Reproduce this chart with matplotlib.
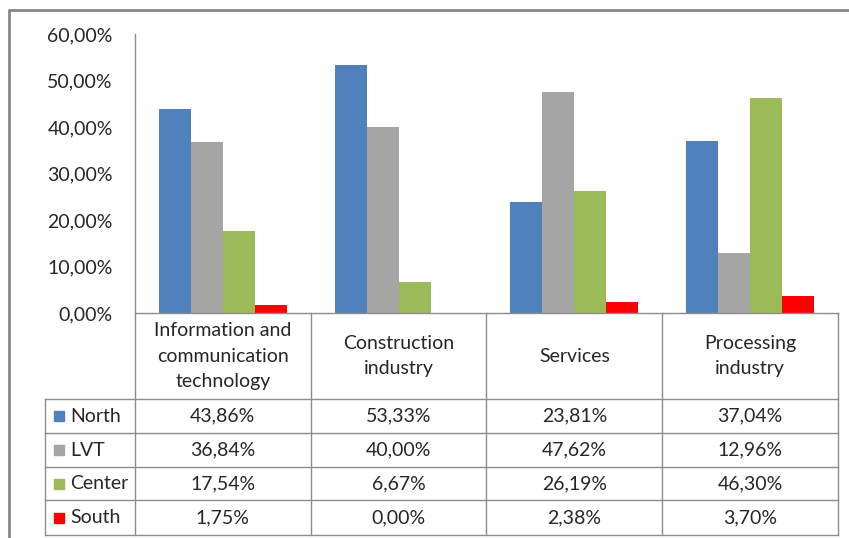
import numpy as np
import matplotlib
matplotlib.use("Agg")
import matplotlib.pyplot as plt

plt.rcParams['font.family'] = ['Lato', 'DejaVu Sans']

categories = ["Information and\ncommunication\ntechnology", "Construction\nindustry",
              "Services", "Processing\nindustry"]
series = ["North", "LVT", "Center", "South"]
north = [43.86, 53.33, 23.81, 37.04]
lvt = [36.84, 40.00, 47.62, 12.96]
center = [17.54, 6.67, 26.19, 46.30]
south = [1.75, 0.00, 2.38, 3.70]
colors = ["#4F81BD", "#A5A5A5", "#9BBB59", "#FF0000"]
yticks = [0, 10, 20, 30, 40, 50, 60]

values = [north, lvt, center, south]
W, H = 849, 538
fig = plt.figure(figsize=(W / 100, H / 100), dpi=100)

def fx(px):
    return px / W

def fy(py):
    return 1 - py / H

# pixel layout
ax_left, ax_right, ax_zero, ax_top = 135, 838, 313, 34
tab_left, tab_bottom = 45, 535
row_lines = [399, 433, 467, 500, 535]
grid_col = "#8C8C8C"
txt_col = "#262626"
fs = 14

ax = fig.add_axes([fx(ax_left), fy(ax_zero), fx(ax_right - ax_left), (ax_zero - ax_top) / H])
x = np.arange(len(categories))
bw = 0.182
for i, (name, vals, c) in enumerate(zip(series, values, colors)):
    ax.bar(x + (i - 1.5) * bw, vals, bw, color=c, label=name)
ax.set_xlim(-0.5, len(categories) - 0.5)
ax.set_ylim(0, 60)
ax.set_yticks(yticks)
ax.set_yticklabels([f"{v:.2f}%".replace(".", ",") for v in yticks], fontsize=fs, color=txt_col)
ax.tick_params(axis='y', length=0, pad=16)
ax.set_xticks([])
for s in ["top", "right", "bottom"]:
    ax.spines[s].set_visible(False)
ax.spines["left"].set_color(grid_col)
ax.spines["left"].set_linewidth(1)

# overlay in pixel coordinates for the data table and outer border
ov = fig.add_axes([0, 0, 1, 1])
ov.set_xlim(0, W)
ov.set_ylim(H, 0)
ov.axis("off")
ov.patch.set_alpha(0)

col_edges = np.linspace(ax_left, ax_right, len(categories) + 1)
lw = 1
# header row / x-axis line
ov.plot([ax_left, ax_right], [ax_zero, ax_zero], color=grid_col, lw=lw)
for ry in row_lines:
    ov.plot([tab_left, ax_right], [ry, ry], color=grid_col, lw=lw)
for cx in col_edges:
    ov.plot([cx, cx], [ax_zero, tab_bottom], color=grid_col, lw=lw)
ov.plot([tab_left, tab_left], [row_lines[0], tab_bottom], color=grid_col, lw=lw)

centers = (col_edges[:-1] + col_edges[1:]) / 2
for cx, cat in zip(centers, categories):
    ov.text(cx, (ax_zero + row_lines[0]) / 2, cat, ha="center", va="center",
            fontsize=fs, linespacing=1.6, color=txt_col)

for r, (name, vals, c) in enumerate(zip(series, values, colors)):
    y0, y1 = row_lines[r], row_lines[r + 1]
    yc = (y0 + y1) / 2
    ov.add_patch(plt.Rectangle((54, yc - 5), 10, 10, color=c))
    ov.text(70, yc, name, ha="left", va="center", fontsize=fs, color=txt_col)
    for cx, v in zip(centers, vals):
        ov.text(cx, yc, f"{v:.2f}%".replace(".", ","), ha="center", va="center",
                fontsize=fs, color=txt_col)

# outer chart border
ov.plot([9.5, 9.5, W + 5], [H + 5, 10, 10], color="#868686", lw=2)

fig.savefig("out.png", dpi=100)
